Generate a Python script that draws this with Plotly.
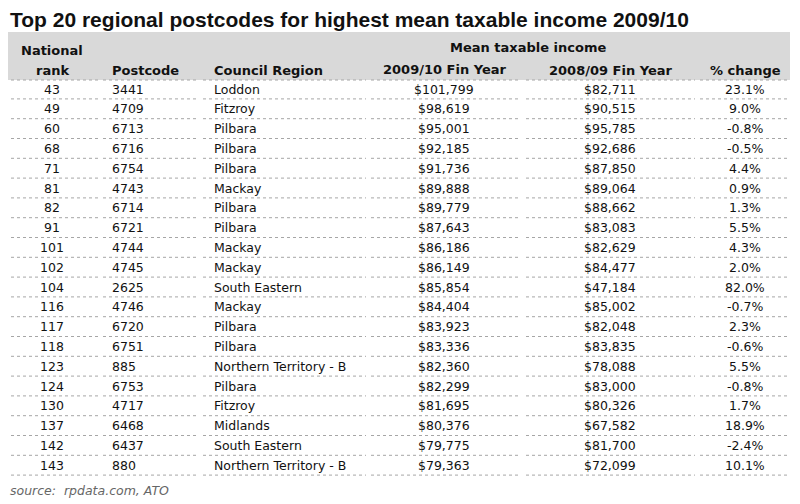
import plotly.graph_objects as go

ranks = [43, 49, 60, 68, 71, 81, 82, 91, 101, 102, 104, 116, 117, 118, 123, 124, 130, 137, 142, 143]
postcodes = ["3441", "4709", "6713", "6716", "6754", "4743", "6714", "6721", "4744", "4745",
             "2625", "4746", "6720", "6751", "885", "6753", "4717", "6468", "6437", "880"]
regions = ["Loddon", "Fitzroy", "Pilbara", "Pilbara", "Pilbara", "Mackay", "Pilbara", "Pilbara",
           "Mackay", "Mackay", "South Eastern", "Mackay", "Pilbara", "Pilbara",
           "Northern Territory - B", "Pilbara", "Fitzroy", "Midlands", "South Eastern",
           "Northern Territory - B"]
income_2010 = [101799, 98619, 95001, 92185, 91736, 89888, 89779, 87643, 86186, 86149,
               85854, 84404, 83923, 83336, 82360, 82299, 81695, 80376, 79775, 79363]
income_2009 = [82711, 90515, 95785, 92686, 87850, 89064, 88662, 83083, 82629, 84477,
               47184, 85002, 82048, 83835, 78088, 83000, 80326, 67582, 81700, 72099]
pct_change = [23.1, 9.0, -0.8, -0.5, 4.4, 0.9, 1.3, 5.5, 4.3, 2.0,
              82.0, -0.7, 2.3, -0.6, 5.5, -0.8, 1.7, 18.9, -2.4, 10.1]

FONT = "DejaVu Sans"
fs = 12.5
fig = go.Figure()
ann = []
shapes = []

# header background
shapes.append(dict(type="rect", x0=5, x1=790, y0=32, y1=80, fillcolor="#d9d9d9", line_width=0, layer="below"))

col_spans = [(5, 98), (103, 198), (203, 366), (371, 521), (526, 695), (700, 790)]
row0, step = 89, 19.8


def hlines(y):
    for a, b in col_spans:
        shapes.append(dict(type="line", x0=a, x1=b, y0=y, y1=y,
                           line=dict(color="#a6a6a6", width=1, dash="dot")))


hlines(80)
for i in range(len(ranks)):
    y = row0 + i * step
    hlines(y + step / 2)
    cells = [
        (52, "center", str(ranks[i])),
        (110, "left", postcodes[i]),
        (212, "left", regions[i]),
        (444, "center", f"${income_2010[i]:,}"),
        (610, "center", f"${income_2009[i]:,}"),
        (745, "center", f"{pct_change[i]:.1f}%"),
    ]
    for x, al, t in cells:
        ann.append(dict(x=x, y=y, text=t, xanchor=al, yanchor="middle", showarrow=False,
                        font=dict(family=FONT, size=fs, color="#111")))

hdr = dict(family=FONT, size=13, color="#111")
headers = [
    (52, 50, "center", "<b>National</b>"),
    (52, 70, "center", "<b>rank</b>"),
    (110, 70, "left", "<b>Postcode</b>"),
    (212, 70, "left", "<b>Council Region</b>"),
    (528, 47, "center", "<b>Mean taxable income</b>"),
    (444, 69, "center", "<b>2009/10 Fin Year</b>"),
    (610, 70, "center", "<b>2008/09 Fin Year</b>"),
    (745, 70, "center", "<b>% change</b>"),
]
for x, y, al, t in headers:
    ann.append(dict(x=x, y=y, text=t, xanchor=al, yanchor="middle", showarrow=False, font=hdr))

ann.append(dict(x=8, y=19, text="<b>Top 20 regional postcodes for highest mean taxable income 2009/10</b>",
                xanchor="left", yanchor="middle", showarrow=False,
                font=dict(family="Liberation Sans", size=21, color="#111")))
ann.append(dict(x=8, y=490, text="<i>source:  rpdata.com, ATO</i>", xanchor="left", yanchor="middle",
                showarrow=False, font=dict(family=FONT, size=12.5, color="#666")))

# page has an 8px body margin, so offset the axis ranges to land on window pixels
fig.update_layout(
    width=800, height=504, margin=dict(l=0, r=0, t=0, b=0),
    paper_bgcolor="white", plot_bgcolor="white",
    xaxis=dict(range=[8, 808], visible=False, fixedrange=True),
    yaxis=dict(range=[512, 8], visible=False, fixedrange=True),
    annotations=ann, shapes=shapes, showlegend=False,
)
fig.write_html("out.html")
